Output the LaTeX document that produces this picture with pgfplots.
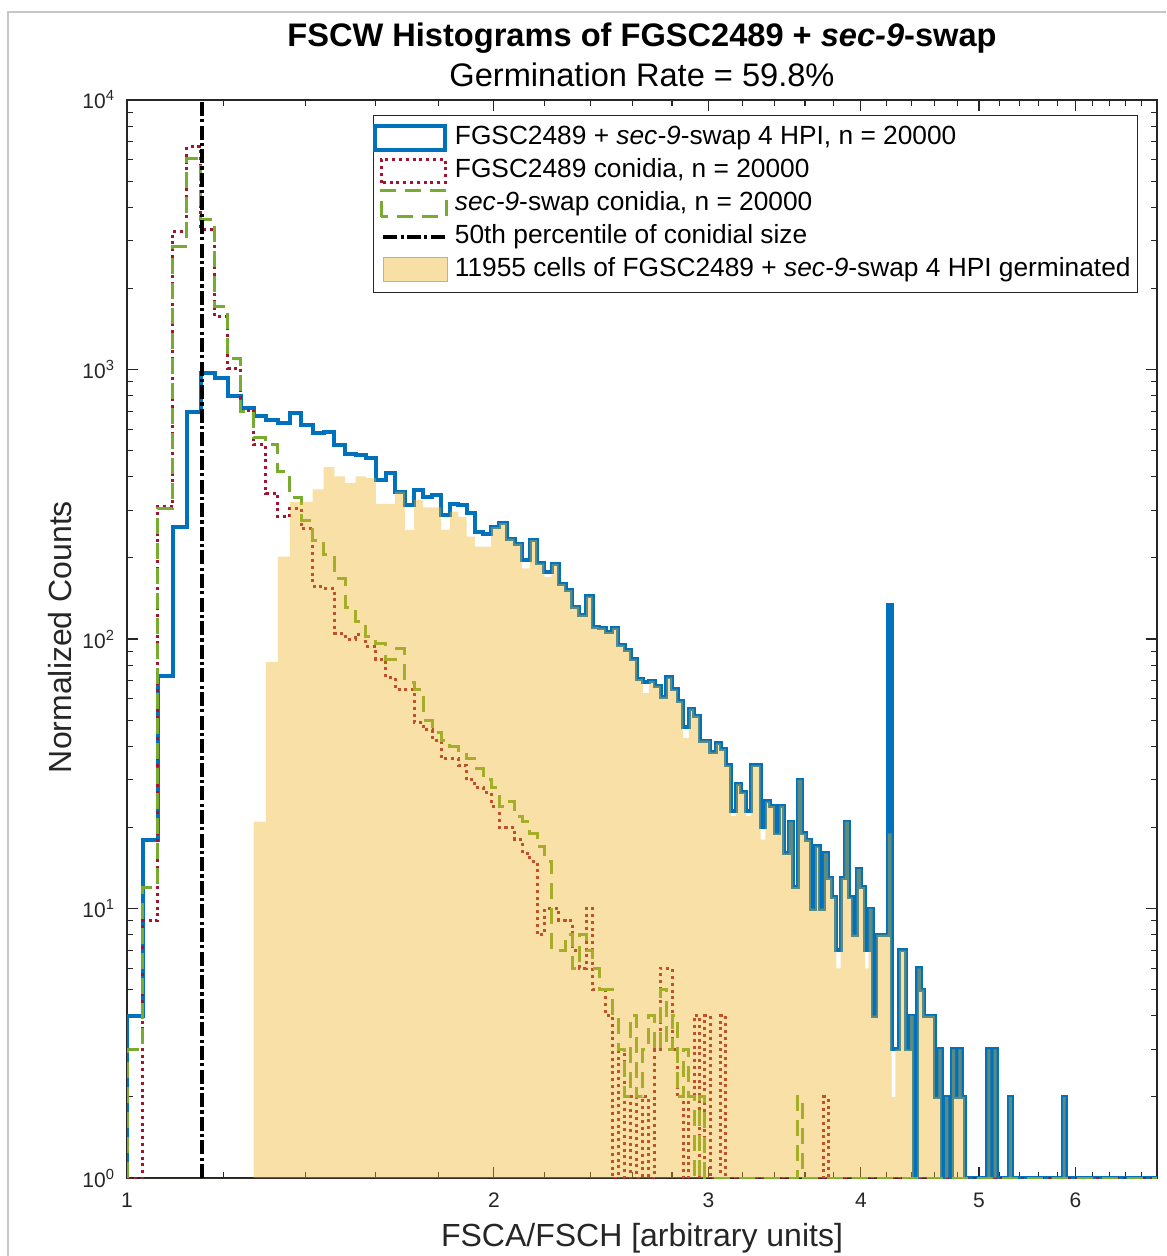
\documentclass[border=0pt]{standalone}
\usepackage{pgfplots}
\pgfplotsset{compat=1.18}
\usepackage{pgfplotstable}
\usepackage{fontspec}
\setmainfont{Liberation Sans}

\definecolor{mblue}{RGB}{0,114,189}
\definecolor{mred}{RGB}{162,20,47}
\definecolor{mgreen}{RGB}{119,172,48}
\definecolor{myellow}{RGB}{237,177,32}
\definecolor{axgray}{RGB}{38,38,38}

% Histogram counts, bin width 0.03 starting at 1.00 (x = left bin edge).
% Empty bins are stored as 1 so they sit on the bottom of the log axis.
\pgfplotstableread{
x    blue red  green germ
1.00 1    1    1     1
1.00 4    1    3     1
1.03 18   9    12    1
1.06 73   310  305   1
1.09 260  3250 2850  1
1.12 697  6700 6080  1
1.15 968  3300 3600  1
1.18 930  1570 1710  1
1.21 795  1010 1100  1
1.24 720  707  700   1
1.27 672  525  560   21
1.30 650  347  525   82
1.33 631  284  417   202
1.36 688  305  336   323
1.39 622  257  276   323
1.42 580  157  233   359
1.45 588  154  205   434
1.48 525  105  168   401
1.51 486  100  131   380
1.54 482  104  116   401
1.57 468  94   102   395
1.60 389  84   96    317
1.63 412  72   84    317
1.66 352  65   92    352
1.69 314  65   69    254
1.72 357  49   65    328
1.75 337  46   50    308
1.78 342  42   45    308
1.81 288  36   42    254
1.84 317  36   40    297
1.87 314  34   38    284
1.90 293  30   36    240
1.93 250  28   33    220
1.96 245  27   30    220
1.99 260  24   28    260
2.02 269  20   24    269
2.05 236  20   25    236
2.08 226  18   22    226
2.11 196  16   21    183
2.14 233  15   19    233
2.17 191  8    17    191
2.20 178  10   15    170
2.23 190  10   7     190
2.26 160  9    7     160
2.29 152  9    8     152
2.32 132  7    6     132
2.35 123  6    8     123
2.38 144  10   7     144
2.41 111  5    6     111
2.44 110  5    5     110
2.47 106  4    5     106
2.50 110  1    4     110
2.53 95   3    3     95
2.56 91   1    2     91
2.59 84   2    4     84
2.62 71   1    2     71
2.65 69   2    3     63
2.68 70   1    4     70
2.71 67   3    3     67
2.74 61   6    5     61
2.77 72   6    3     72
2.80 65   3    4     65
2.83 59   2    2     59
2.86 47   1    3     43
2.89 55   2    2     55
2.92 52   4    1     52
2.95 42   1    2     42
2.98 42   4    1     42
3.01 38   1    1     38
3.04 41   1    1     41
3.07 39   4    1     39
3.10 34   1    1     34
3.13 23   1    1     22
3.16 29   1    1     29
3.19 27   1    1     27
3.22 23   1    1     22
3.25 34   1    1     34
3.28 34   1    1     34
3.31 20   1    1     18
3.34 25   1    1     25
3.37 24   1    1     24
3.40 19   1    1     19
3.43 24   1    1     24
3.46 16   1    1     16
3.49 21   1    1     21
3.52 12   1    1     12
3.55 30   1    2     30
3.58 19   1    1     19
3.61 18   1    1     18
3.64 10   1    1     10
3.67 17   1    1     17
3.70 10   1    1     10
3.73 16   2    1     16
3.76 13   1    1     13
3.79 11   1    1     11
3.82 7    1    1     6
3.85 13   1    1     13
3.88 21   1    1     21
3.91 11   1    1     11
3.94 8    1    1     8
3.97 14   1    1     14
4.00 12   1    1     12
4.03 7    1    1     6
4.06 10   1    1     10
4.09 4    1    1     4
4.12 8    1    1     8
4.15 8    1    1     8
4.18 8    1    1     8
4.21 134  1    1     19
4.24 3    1    1     2
4.27 3    1    1     3
4.30 7    1    1     7
4.33 7    1    1     7
4.36 3    1    1     3
4.39 4    1    1     4
4.42 1    1    1     1
4.45 6    1    1     6
4.48 5    1    1     5
4.51 4    1    1     4
4.54 4    1    1     4
4.57 4    1    1     4
4.60 2    1    1     2
4.63 3    1    1     3
4.66 1    1    1     1
4.69 2    1    1     2
4.72 1    1    1     1
4.75 3    1    1     3
4.78 2    1    1     2
4.81 3    1    1     3
4.84 2    1    1     2
4.87 1    1    1     1
5.08 3    1    1     3
5.11 1    1    1     1
5.14 3    1    1     3
5.17 1    1    1     1
5.29 2    1    1     2
5.32 1    1    1     1
5.86 2    1    1     2
5.89 1    1    1     1
7.00 1    1    1     1
}\histdata

\begin{document}
\begin{tikzpicture}
\useasboundingbox (-63.5pt,-39pt) rectangle (519.5pt,589pt);
\begin{axis}[
  at={(0pt,0pt)}, anchor=south west,
  scale only axis, width=515pt, height=539pt,
  xmode=log, ymode=log,
  xmin=1, xmax=7, ymin=1, ymax=10000,
  xtick={1,2,3,4,5,6}, xticklabels={1,2,3,4,5,6},
  minor xtick={1.2,1.4,1.6,1.8,2.2,2.4,2.6,2.8,3.2,3.4,3.6,3.8,4.2,4.4,4.6,4.8,5.2,5.4,5.6,5.8,6.2,6.4,6.6,6.8},
  ytick={1,10,100,1000,10000},
  yticklabels={10\textsuperscript{0},10\textsuperscript{1},10\textsuperscript{2},10\textsuperscript{3},10\textsuperscript{4}},
  minor ytick={2,3,4,5,6,7,8,9,20,30,40,50,60,70,80,90,200,300,400,500,600,700,800,900,2000,3000,4000,5000,6000,7000,8000,9000},
  tick align=inside,
  major tick length=5.4pt, minor tick length=2.8pt,
  axis line style={draw=axgray, line width=0.6pt},
  every tick/.style={draw=axgray, line width=0.55pt},
  tick label style={font=\fontsize{10.5}{12}\selectfont, text=axgray},
  xticklabel style={yshift=-4pt},
  yticklabel style={xshift=-2.5pt},
  legend cell align=left,
  legend style={at={(rel axis cs:0.9816,0.9861)}, anchor=north east,
    draw=axgray, line width=0.5pt, fill=white,
    font=\fontsize{13.15}{15.6}\selectfont, text=black,
    inner xsep=0pt, inner ysep=3pt, row sep=0pt,
    nodes={text height=9.5pt, text depth=3pt, inner xsep=3.5pt}},
]
% legend entries, listed in drawing order
\addlegendimage{legend image code/.code={\draw[mblue, line width=2pt] (1pt,-6.2pt) rectangle (36pt,6.2pt);}}
\addlegendentry{FGSC2489 + \textit{sec-9}-swap 4 HPI, n = 20000}
\addlegendimage{legend image code/.code={\draw[mred, line width=1.5pt, dash pattern=on 1.5pt off 1.9pt] (4pt,-5.8pt) rectangle (36pt,5.8pt);}}
\addlegendentry{FGSC2489 conidia, n = 20000}
\addlegendimage{legend image code/.code={\draw[mgreen, line width=1.5pt, dash pattern=on 8pt off 4.5pt] (4pt,-6.5pt) rectangle (36.5pt,6.5pt);}}
\addlegendentry{\textit{sec-9}-swap conidia, n = 20000}
\addlegendimage{legend image code/.code={\draw[black, line width=2pt, dash pattern=on 7pt off 1.6pt on 1.6pt off 1.6pt] (5pt,0pt) -- (36pt,0pt);}}
\addlegendentry{50th percentile of conidial size}
\addlegendimage{legend image code/.code={\fill[myellow, fill opacity=0.4] (5pt,-6pt) rectangle (37pt,6pt);}}
\addlegendentry{11955 cells of FGSC2489 + \textit{sec-9}-swap 4 HPI germinated}

% all cells after 4 HPI
\addplot[forget plot, mblue, line width=2pt, const plot mark left, line join=miter]
  table[x=x, y=blue] {\histdata};
% FGSC2489 conidia
\addplot[forget plot, mred, line width=1.5pt, dash pattern=on 1.5pt off 1.9pt, const plot mark left]
  table[x=x, y=red] {\histdata};
% sec-9-swap conidia
\addplot[forget plot, mgreen, line width=1.5pt, dash pattern=on 8pt off 4.5pt, const plot mark left]
  table[x=x, y=green] {\histdata};
% median conidial size
\addplot[forget plot, black, line width=2.2pt, dash pattern=on 7pt off 1.6pt on 1.6pt off 1.6pt]
  coordinates {(1.152,1) (1.152,10000)};
% germinated cells, translucent bars on top
\addplot[forget plot, draw=none, fill=myellow, fill opacity=0.4, const plot mark left]
  table[x=x, y=germ] {\histdata} \closedcycle;
\end{axis}

% figure window edge
\draw[gray!45, line width=1.2pt] (-59.5pt,-39pt) -- (-59.5pt,583pt) -- (519.5pt,583pt);

% titles and axis labels
\node[anchor=base, font=\fontsize{16.3}{19}\selectfont\bfseries] at (257.5pt,565.5pt)
  {FSCW Histograms of FGSC2489 + \textit{sec-9}-swap};
\node[anchor=base, font=\fontsize{16.3}{19}\selectfont] at (257.5pt,545.5pt)
  {Germination Rate = 59.8\%};
\node[anchor=base, font=\fontsize{16}{19}\selectfont, text=axgray] at (257.5pt,-34.3pt)
  {FSCA/FSCH [arbitrary units]};
\node[anchor=base, rotate=90, font=\fontsize{16}{19}\selectfont, text=axgray] at (-27.5pt,270.5pt)
  {Normalized Counts};
\end{tikzpicture}
\end{document}
